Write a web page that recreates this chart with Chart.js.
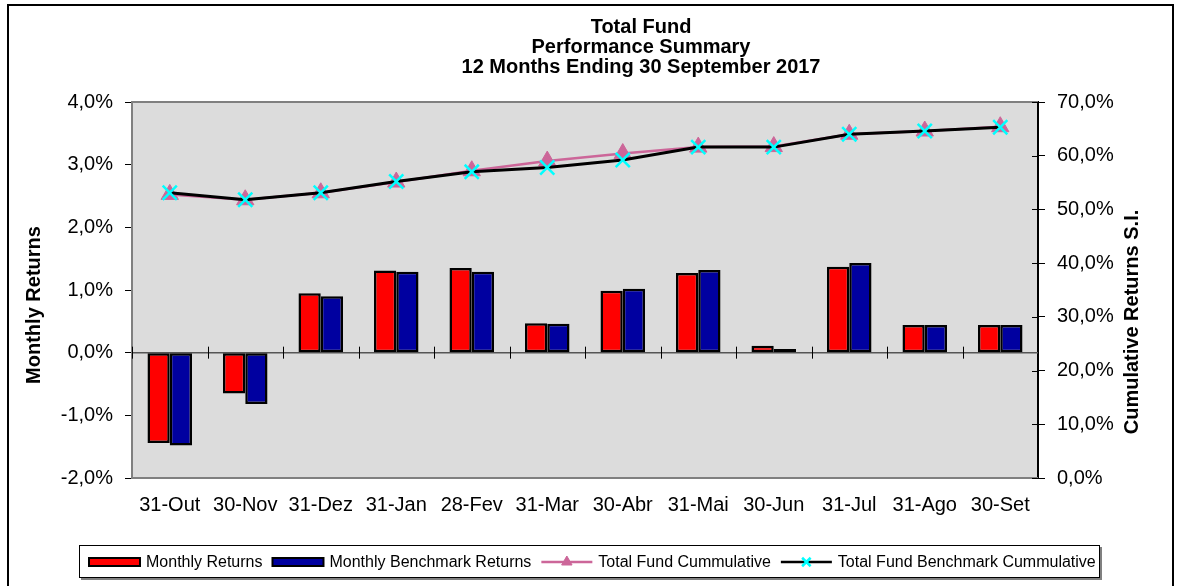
<!DOCTYPE html>
<html>
<head>
<meta charset="utf-8">
<script src="https://cdn.jsdelivr.net/npm/chart.js@4.4.0/dist/chart.umd.min.js"></script>
<style>
  html, body { margin: 0; padding: 0; background: #fff; }
  #wrap { width: 1182px; height: 586px; position: relative; }
</style>
</head>
<body>
<div id="wrap"><canvas id="perfChart"></canvas></div>
<script>
// chart data
const categories = ['31-Out', '30-Nov', '31-Dez', '31-Jan', '28-Fev', '31-Mar',
                    '30-Abr', '31-Mai', '30-Jun', '31-Jul', '31-Ago', '30-Set'];
const monthlyReturns   = [-1.44, -0.65, 0.95, 1.31, 1.35, 0.47, 0.99, 1.27, 0.11, 1.37, 0.44, 0.44];
const benchmarkReturns = [-1.48, -0.82, 0.90, 1.29, 1.29, 0.46, 1.02, 1.32, 0.06, 1.43, 0.44, 0.44];
const fundCumulative      = [52.8, 51.8, 53.1, 55.1, 57.2, 59.0, 60.4, 61.6, 61.7, 64.0, 64.6, 65.4];
const benchmarkCumulative = [53.1, 51.8, 53.1, 55.2, 57.0, 57.8, 59.2, 61.6, 61.6, 64.0, 64.6, 65.3];
const titleLines = ['Total Fund', 'Performance Summary', '12 Months Ending 30 September 2017'];
const leftAxisTitle = 'Monthly Returns';
const rightAxisTitle = 'Cumulative Returns S.I.';

const FONT = "'Liberation Sans', Arial, sans-serif";

function pct(v) {
  return v.toFixed(1).replace('.', ',') + '%';
}

// background, frame, zero line, titles and the boxed legend
const decorPlugin = {
  id: 'decor',
  beforeDraw(chart) {
    const { ctx, chartArea: a } = chart;
    ctx.save();
    ctx.fillStyle = '#DCDCDC';
    ctx.fillRect(a.left, a.top, a.right - a.left, a.bottom - a.top);
    ctx.restore();
  },
  beforeDatasetsDraw(chart) {
    const { ctx, chartArea: a, scales } = chart;
    ctx.save();
    // gray plot border
    ctx.strokeStyle = '#808080';
    ctx.lineWidth = 2;
    ctx.beginPath();
    ctx.moveTo(a.right, a.top); ctx.lineTo(a.left, a.top);
    ctx.lineTo(a.left, a.bottom); ctx.lineTo(a.right, a.bottom);
    ctx.stroke();

    // zero line with crossing category ticks
    const y0 = scales.y.getPixelForValue(0);
    ctx.strokeStyle = '#555';
    ctx.lineWidth = 1.5;
    ctx.beginPath();
    ctx.moveTo(a.left, y0); ctx.lineTo(a.right, y0);
    ctx.stroke();
    ctx.strokeStyle = '#000';
    ctx.lineWidth = 1;
    for (let i = 0; i <= categories.length; i++) {
      const xb = Math.round(scales.x.getPixelForValue(i - 0.5)) + 0.5;
      ctx.beginPath();
      ctx.moveTo(xb, y0 - 6); ctx.lineTo(xb, y0 + 6);
      ctx.stroke();
    }
    // right axis ticks cross into the plot
    scales.y1.ticks.forEach(t => {
      const yy = Math.round(scales.y1.getPixelForValue(t.value)) + 0.5;
      ctx.beginPath();
      ctx.moveTo(a.right - 6, yy); ctx.lineTo(a.right, yy);
      ctx.stroke();
    });
    ctx.restore();
  },
  afterDraw(chart) {
    const { ctx } = chart;
    ctx.save();

    // outer frame
    ctx.strokeStyle = '#000';
    ctx.lineWidth = 2;
    ctx.strokeRect(8, 5, 1165, 620);

    // title
    ctx.fillStyle = '#000';
    ctx.textAlign = 'center';
    ctx.textBaseline = 'middle';
    ctx.font = 'bold 20px ' + FONT;
    titleLines.forEach((line, i) => ctx.fillText(line, 641, 27 + i * 20));

    // axis titles
    ctx.font = 'bold 20px ' + FONT;
    [[leftAxisTitle, 34, 305], [rightAxisTitle, 1132, 322]].forEach(([txt, x, y]) => {
      ctx.save();
      ctx.translate(x, y);
      ctx.rotate(-Math.PI / 2);
      ctx.fillText(txt, 0, 0);
      ctx.restore();
    });

    // legend box
    ctx.fillStyle = '#808080';
    ctx.fillRect(81, 578, 1021, 2);
    ctx.fillRect(1100, 547, 2, 33);
    ctx.fillStyle = '#fff';
    ctx.fillRect(79, 545, 1021, 33);
    ctx.strokeStyle = '#000';
    ctx.lineWidth = 1;
    ctx.strokeRect(79.5, 545.5, 1020, 32);

    const cy = 562;
    let x = 89;
    ctx.font = '16px ' + FONT;
    ctx.textAlign = 'left';
    chart.data.datasets.forEach(ds => {
      if (ds.type === 'bar') {
        ctx.fillStyle = ds.backgroundColor;
        ctx.fillRect(x, cy - 4, 51, 8);
        ctx.strokeStyle = '#000';
        ctx.lineWidth = 2;
        ctx.strokeRect(x, cy - 4, 51, 8);
      } else {
        ctx.strokeStyle = ds.borderColor;
        ctx.lineWidth = 2.5;
        ctx.beginPath();
        ctx.moveTo(x, cy); ctx.lineTo(x + 51, cy);
        ctx.stroke();
        ctx.fillStyle = ds.pointBackgroundColor;
        ctx.strokeStyle = ds.pointBorderColor;
        ctx.lineWidth = ds.pointBorderWidth;
        Chart.helpers.drawPoint(ctx, {
          pointStyle: ds.pointStyle,
          radius: ds.pointStyle === 'triangle' ? 6 : 6,
          borderWidth: ds.pointBorderWidth,
          rotation: 0
        }, x + 25.5, cy);
      }
      x += 57;
      ctx.fillStyle = '#000';
      ctx.fillText(ds.label, x, cy + 1);
      x += ctx.measureText(ds.label).width + 10;
    });
    ctx.restore();
  }
};

new Chart(document.getElementById('perfChart'), {
  type: 'bar',
  data: {
    labels: categories,
    datasets: [
      {
        type: 'bar',
        label: 'Monthly Returns',
        data: monthlyReturns,
        backgroundColor: '#FF0000',
        borderColor: '#000',
        borderWidth: 2.5,
        borderSkipped: false,
        categoryPercentage: 0.59,
        barPercentage: 1.0,
        yAxisID: 'y',
        order: 3
      },
      {
        type: 'bar',
        label: 'Monthly Benchmark Returns',
        data: benchmarkReturns,
        backgroundColor: '#0000A0',
        borderColor: '#000',
        borderWidth: 2.5,
        borderSkipped: false,
        categoryPercentage: 0.59,
        barPercentage: 1.0,
        yAxisID: 'y',
        order: 3
      },
      {
        type: 'line',
        label: 'Total Fund Cummulative',
        data: fundCumulative,
        borderColor: '#CC6699',
        borderWidth: 2.5,
        pointStyle: 'triangle',
        pointRadius: 10,
        pointBackgroundColor: '#CC6699',
        pointBorderColor: '#CC6699',
        pointBorderWidth: 1,
        tension: 0,
        yAxisID: 'y1',
        order: 2
      },
      {
        type: 'line',
        label: 'Total Fund Benchmark Cummulative',
        data: benchmarkCumulative,
        borderColor: '#000',
        borderWidth: 3,
        pointStyle: 'crossRot',
        pointRadius: 10,
        pointBackgroundColor: '#00FFFF',
        pointBorderColor: '#00FFFF',
        pointBorderWidth: 2.5,
        tension: 0,
        yAxisID: 'y1',
        order: 1
      }
    ]
  },
  options: {
    responsive: true,
    maintainAspectRatio: false,
    animation: false,
    layout: { padding: { top: 102, bottom: 68, left: 0, right: 0 } },
    plugins: {
      legend: { display: false },
      title: { display: false },
      tooltip: { enabled: false }
    },
    scales: {
      x: {
        grid: { display: false },
        border: { display: false },
        ticks: { color: '#000', font: { family: FONT, size: 20 }, padding: 7, maxRotation: 0 },
        afterFit: (s) => { s.height = 40; }
      },
      y: {
        position: 'left',
        min: -2,
        max: 4,
        ticks: { stepSize: 1, color: '#000', font: { family: FONT, size: 20 }, padding: 12, callback: (v) => pct(v) },
        grid: { drawOnChartArea: false, drawTicks: true, tickLength: 7, tickColor: '#000', tickWidth: 1 },
        border: { display: true, color: '#808080', width: 2 },
        afterFit: (s) => { s.width = 132; }
      },
      y1: {
        position: 'right',
        min: 0,
        max: 70,
        ticks: { stepSize: 10, color: '#000', font: { family: FONT, size: 20 }, padding: 12, callback: (v) => pct(v) },
        grid: { drawOnChartArea: false, drawTicks: true, tickLength: 7, tickColor: '#000', tickWidth: 1 },
        border: { display: true, color: '#000', width: 2 },
        afterFit: (s) => { s.width = 144; }
      }
    }
  },
  plugins: [decorPlugin]
});
</script>
</body>
</html>
